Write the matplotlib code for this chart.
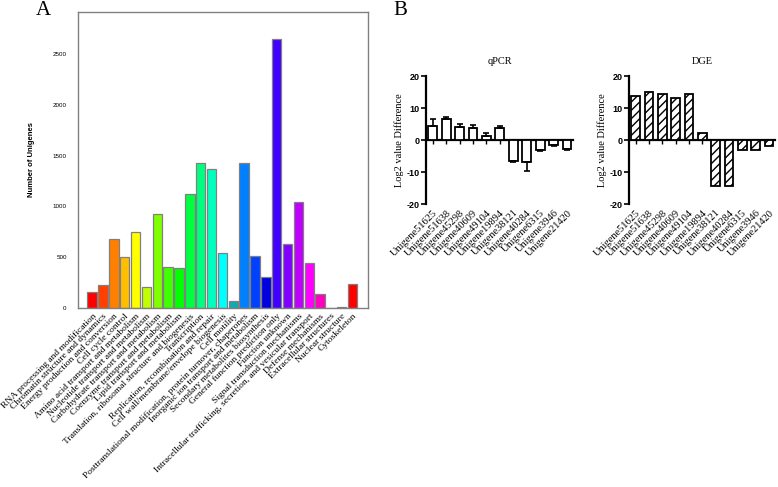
import matplotlib
matplotlib.use("Agg")
import matplotlib.pyplot as plt
import numpy as np

plt.rcParams['axes.unicode_minus'] = False

# ---- panel A data (COG categories) ----
cog_labels = [
    "RNA processing and modification",
    "Chromatin structure and dynamics",
    "Energy production and conversion",
    "Cell cycle control",
    "Amino acid transport and metabolism",
    "Nucleotide transport and metabolism",
    "Carbohydrate transport and metabolism",
    "Coenzyme transport and metabolism",
    "Lipid transport and metabolism",
    "Translation, ribosomal structure and biogenesis",
    "Transcription",
    "Replication, recombination and repair",
    "Cell wall/membrane/envelope biogenesis",
    "Cell motility",
    "Posttranslational modification, protein turnover, chaperones",
    "Inorganic ion transport and metabolism",
    "Secondary metabolites biosynthesis",
    "General function prediction only",
    "Function unknown",
    "Signal transduction mechanisms",
    "Intracellular trafficking, secretion, and vesicular transport",
    "Defense mechanisms",
    "Extracellular structures",
    "Nuclear structure",
    "Cytoskeleton",
]
cog_counts = [155, 223, 679, 499, 748, 210, 922, 407, 397, 1119, 1427, 1371,
              538, 72, 1424, 512, 302, 2648, 633, 1043, 440, 138, 4, 5, 233]
cog_colors = ['#FF0000', '#FF4000', '#FF8000', '#FFBF00', '#FFFF00', '#BFFF00',
              '#80FF00', '#40FF00', '#00FF00', '#00FF40', '#00FF80', '#00FFBF',
              '#00FFFF', '#12A8B8', '#0080FF', '#0040FF', '#0000E0', '#4000FF',
              '#8000FF', '#BF00FF', '#FF00FF', '#FF00BF', '#FF0080', '#FF0040',
              '#FF0000']
cog_yticks = [0, 500, 1000, 1500, 2000, 2500]

# ---- panel B data ----
genes = ["Unigene51625", "Unigene51638", "Unigene45298", "Unigene40609",
         "Unigene49104", "Unigene19894", "Unigene38121", "Unigene40284",
         "Unigene6315", "Unigene3946", "Unigene21420"]
qpcr = [4.4, 6.5, 4.2, 3.6, 1.35, 3.75, -6.5, -6.9, -3.1, -1.5, -2.9]
qpcr_err = [2.2, 0.8, 0.7, 1.0, 0.9, 0.7, 0.4, 2.7, 0.3, 0.4, 0.2]
dge = [13.7, 14.9, 14.5, 13.1, 14.3, 2.2, -14.4, -14.4, -3.2, -3.2, -1.75]
b_yticks = [-20, -10, 0, 10, 20]

serif = 'Liberation Serif'
sans = 'Liberation Sans'

fig = plt.figure(figsize=(7.78, 4.87), dpi=100)

# ================= panel A =================
axA = fig.add_axes([0.100, 0.3676, 0.373, 0.6078])
xa = np.arange(len(cog_counts))
axA.bar(xa, cog_counts, width=0.86, color=cog_colors, edgecolor='#808080', linewidth=0.9)
axA.set_xlim(-1.32, 25.41)
axA.set_ylim(0, 2913)
for s in axA.spines.values():
    s.set_color('#808080')
    s.set_linewidth(1.0)
axA.set_yticks(cog_yticks)
axA.set_yticklabels([str(v) for v in cog_yticks], fontsize=4.5, family=sans)
axA.tick_params(axis='y', length=0, pad=8)
axA.set_xticks(xa)
axA.set_xticklabels(cog_labels, rotation=45, ha='right', va='top', rotation_mode='anchor',
                    fontsize=6.8, family=serif)
axA.tick_params(axis='x', length=0, pad=3)
axA.set_ylabel('Number of Unigenes', fontsize=5.5, fontweight='bold', family=sans, labelpad=13)

fig.text(0.046, 0.997, 'A', fontsize=15, family=serif, va='top', ha='left')
fig.text(0.506, 0.997, 'B', fontsize=15, family=serif, va='top', ha='left')


# ================= panel B =================
def prism_axes(rect, title):
    ax = fig.add_axes(rect)
    ax.set_xlim(-0.5, 10.45)
    ax.set_ylim(-20, 20)
    ax.spines['top'].set_visible(False)
    ax.spines['right'].set_visible(False)
    ax.spines['left'].set_linewidth(1.6)
    ax.spines['bottom'].set_linewidth(1.6)
    ax.spines['bottom'].set_position(('data', 0))
    ax.set_yticks(b_yticks)
    ax.set_yticklabels([str(v) for v in b_yticks], fontsize=6.5, fontweight='bold', family=sans)
    ax.tick_params(axis='y', length=3.5, width=1.2, pad=1)
    xb = np.arange(len(genes))
    ax.set_xticks(xb)
    ax.set_xticklabels([])
    ax.tick_params(axis='x', length=3, width=1.0, direction='out')
    sec = ax.secondary_xaxis('bottom')
    sec.set_xticks(xb)
    sec.set_xticklabels(genes, rotation=45, ha='right', va='top', rotation_mode='anchor',
                        fontsize=7.5, family=serif)
    sec.tick_params(length=0, pad=3)
    sec.spines['bottom'].set_visible(False)
    ax.set_ylabel('Log2 value Difference', fontsize=7.5, family=serif, labelpad=2)
    ax.set_title(title, fontsize=7.5, family=serif, pad=9)
    return ax, xb


axQ, xb = prism_axes([0.5476, 0.5811, 0.189, 0.2628], 'qPCR')
axQ.bar(xb, qpcr, width=0.66, color='white', edgecolor='black', linewidth=1.3, zorder=3)
err_low = [e if v < 0 else 0 for v, e in zip(qpcr, qpcr_err)]
err_high = [e if v > 0 else 0 for v, e in zip(qpcr, qpcr_err)]
axQ.errorbar(xb, qpcr, yerr=[err_low, err_high], fmt='none', ecolor='black',
             elinewidth=1.2, capsize=2.5, capthick=1.2, zorder=4)

axD, xb = prism_axes([0.8085, 0.5811, 0.1877, 0.2628], 'DGE')
plt.rcParams['hatch.linewidth'] = 1.0
axD.bar(xb, dge, width=0.66, color='white', edgecolor='black', hatch='////',
        linewidth=1.3, zorder=3)

fig.savefig('out.png', dpi=100)
